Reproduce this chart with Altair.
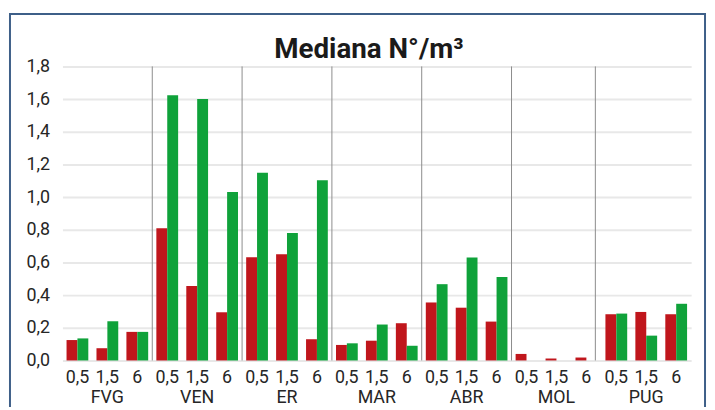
import altair as alt
import pandas as pd

groups = ["FVG", "VEN", "ER", "MAR", "ABR", "MOL", "PUG"]
sizes = ["0,5", "1,5", "6"]
series = ["Serie 1", "Serie 2"]
red = [0.125, 0.075, 0.175,
       0.81, 0.456, 0.295,
       0.632, 0.65, 0.13,
       0.095, 0.121, 0.228,
       0.355, 0.323, 0.238,
       0.04, 0.012, 0.018,
       0.283, 0.297, 0.283]
green = [0.135, 0.24, 0.175,
         1.624, 1.6, 1.032,
         1.149, 0.78, 1.103,
         0.105, 0.22, 0.09,
         0.467, 0.63, 0.511,
         0.0, 0.0, 0.0,
         0.287, 0.152, 0.347]
yticks = [0.0, 0.2, 0.4, 0.6, 0.8, 1.0, 1.2, 1.4, 1.6, 1.8]
colors = ["#C0161C", "#0FA23A"]

keys = [f"{g}|{s}" for g in groups for s in sizes]
rows = []
for i, g in enumerate(groups):
    for j, s in enumerate(sizes):
        k = i * 3 + j
        rows.append({"key": f"{g}|{s}", "serie": series[0], "value": red[k]})
        rows.append({"key": f"{g}|{s}", "serie": series[1], "value": green[k]})
df = pd.DataFrame(rows)

sep_main = pd.DataFrame({"key": [f"{g}|{sizes[0]}" for g in groups[1:6]]})
sep_last = pd.DataFrame({"key": [f"{groups[5]}|{sizes[2]}"]})
grp_df = pd.DataFrame({"key": [f"{g}|{sizes[1]}" for g in groups], "group": groups})

FONT = "Roboto, sans-serif"
TXT = "#262626"
FS = 18

xscale = alt.Scale(domain=keys, paddingInner=0, paddingOuter=0)
yscale = alt.Scale(domain=[0, 1.8], nice=False)
yaxis = alt.Axis(values=yticks, tickCount=10,
                 labelExpr="replace(format(datum.value,'.1f'),'.',',')",
                 ticks=False, tickSize=0, domain=False, labelPadding=13,
                 labelOverlap=False,
                 labelFont=FONT, labelFontSize=FS, labelColor=TXT,
                 grid=True, gridColor="#E8E8E8", gridWidth=2)

frame = alt.Chart(pd.DataFrame({"f": [0]})).mark_rect(
    fill="transparent", stroke="#3E5F88", strokeWidth=2
).encode(x=alt.value(-53), x2=alt.value(649), y=alt.value(-53), y2=alt.value(380))

bars = alt.Chart(df).mark_bar().encode(
    x=alt.X("key:N", scale=xscale, title=None,
            axis=alt.Axis(labelExpr="split(datum.value,'|')[1]", labelAngle=0,
                          ticks=False, tickSize=0, domain=False, labelPadding=8,
                          labelOverlap=False,
                          labelFont=FONT, labelFontSize=FS, labelColor=TXT, grid=False)),
    xOffset=alt.XOffset("serie:N", scale=alt.Scale(domain=series, paddingInner=0, paddingOuter=0.375)),
    y=alt.Y("value:Q", scale=yscale, title=None, axis=yaxis),
    color=alt.Color("serie:N", scale=alt.Scale(domain=series, range=colors), legend=None),
)

sep1 = alt.Chart(sep_main).mark_rule(color="#8C8C8C", strokeWidth=1).encode(
    x=alt.X("key:N", bandPosition=0),
    y=alt.Y(datum=0, scale=yscale, axis=yaxis, title=None),
    y2=alt.Y2(datum=1.8),
)
sep2 = alt.Chart(sep_last).mark_rule(color="#8C8C8C", strokeWidth=1).encode(
    x=alt.X("key:N", bandPosition=0.8),
    y=alt.Y(datum=0, scale=yscale, axis=yaxis, title=None),
    y2=alt.Y2(datum=1.8),
)

glabels = alt.Chart(grp_df).mark_text(
    font=FONT, fontSize=FS, color=TXT, baseline="alphabetic", align="center"
).encode(x=alt.X("key:N"), y=alt.value(340), text="group:N")

chart = alt.layer(frame, bars, sep1, sep2, glabels).properties(
    width=635, height=297,
    padding={"left": 55, "top": 57, "right": 16, "bottom": 45},
    autosize=alt.AutoSizeParams(type="none"),
    title=alt.Title("Mediana N°/m³", font=FONT, fontSize=28, fontWeight="bold",
                    color="#1a1a1a", anchor="middle", frame="group", dx=-8,
                    offset=-73, baseline="alphabetic"),
).configure_view(stroke="transparent")

chart.save("out.html", embed_options={"renderer": "svg", "actions": False})
